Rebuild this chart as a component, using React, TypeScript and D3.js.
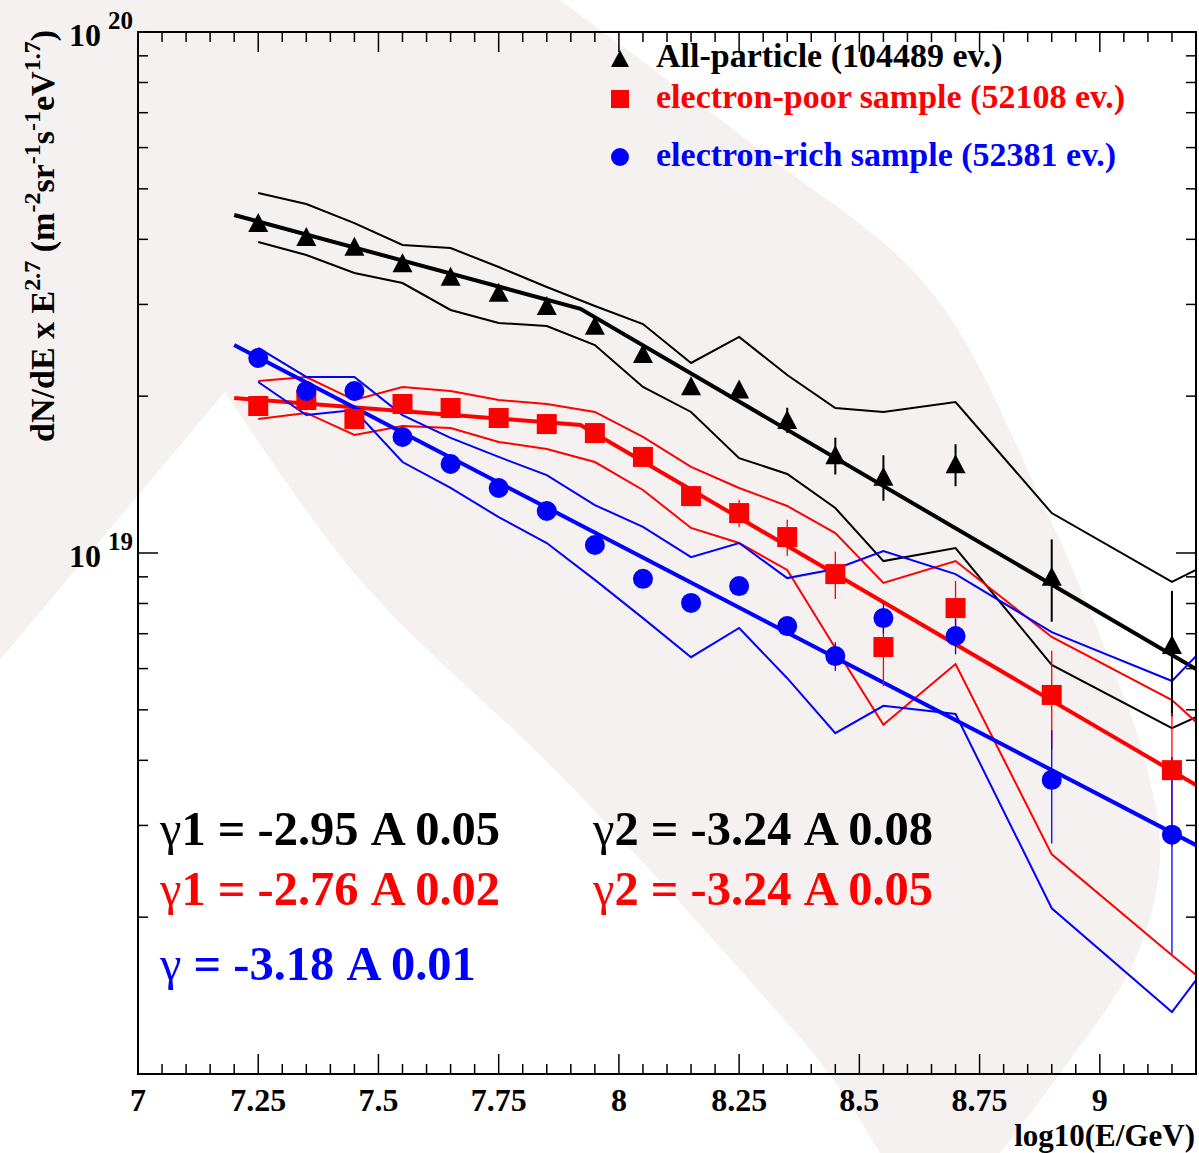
import React from 'react';
import * as d3 from 'd3';

// Energy bins, log10(E/GeV)
const energyBins = [7.25, 7.35, 7.45, 7.55, 7.65, 7.75, 7.85, 7.95, 8.05, 8.15, 8.25, 8.35, 8.45, 8.55, 8.7, 8.9, 9.15];
// Band polylines carry one extra vertex at the frame edge
const bandX = [7.25, 7.35, 7.45, 7.55, 7.65, 7.75, 7.85, 7.95, 8.05, 8.15, 8.25, 8.35, 8.45, 8.55, 8.7, 8.9, 9.15, 9.2];

// dN/dE x E^2.7 in units of 1e19 m^-2 sr^-1 s^-1 eV^1.7
const allParticle = [4.30, 4.04, 3.87, 3.60, 3.39, 3.16, 2.98, 2.73, 2.41, 2.09, 2.06, 1.80, 1.54, 1.40, 1.48, 0.90, 0.666];
const allParticleErr = [0.03, 0.03, 0.03, 0.03, 0.03, 0.03, 0.03, 0.03, 0.04, 0.05, 0.06, 0.10, 0.125, 0.14, 0.137, 0.162, 0.18];
const electronPoor = [1.915, 1.966, 1.808, 1.932, 1.898, 1.816, 1.768, 1.699, 1.529, 1.286, 1.193, 1.073, 0.911, 0.660, 0.784, 0.534, 0.383];
const electronPoorErr = [0.02, 0.02, 0.02, 0.02, 0.02, 0.02, 0.02, 0.02, 0.03, 0.04, 0.073, 0.085, 0.095, 0.105, 0.10, 0.115, 0.11];
const electronRich = [2.368, 2.046, 2.046, 1.670, 1.482, 1.333, 1.204, 1.036, 0.892, 0.802, 0.864, 0.724, 0.634, 0.750, 0.693, 0.367, 0.288];
const electronRichErr = [0.02, 0.02, 0.02, 0.02, 0.02, 0.02, 0.02, 0.02, 0.02, 0.02, 0.025, 0.03, 0.04, 0.05, 0.054, 0.09, 0.118];

// Systematic bands (upper / lower)
const allParticleUpper = [4.909, 4.677, 4.298, 3.901, 3.849, 3.539, 3.240, 2.979, 2.751, 2.316, 2.598, 2.196, 1.898, 1.865, 1.949, 1.193, 0.880, 0.928];
const allParticleLower = [3.953, 3.733, 3.446, 3.297, 2.927, 2.763, 2.727, 2.507, 2.083, 1.865, 1.521, 1.418, 1.220, 0.965, 1.022, 0.610, 0.461, 0.484];
const electronPoorUpper = [2.138, 2.177, 1.966, 2.083, 2.046, 1.966, 1.932, 1.865, 1.670, 1.463, 1.333, 1.231, 1.092, 0.876, 0.965, 0.690, 0.522, 0.474];
const electronPoorLower = [1.808, 1.857, 1.685, 1.753, 1.738, 1.634, 1.584, 1.495, 1.321, 1.117, 1.045, 0.928, 0.657, 0.468, 0.612, 0.264, 0.169, 0.155];
const electronRichUpper = [2.475, 2.177, 2.177, 1.840, 1.663, 1.529, 1.411, 1.236, 1.122, 0.982, 1.045, 0.895, 0.932, 1.009, 0.911, 0.705, 0.568, 0.634];
const electronRichLower = [2.129, 1.840, 1.881, 1.495, 1.333, 1.172, 1.045, 0.888, 0.750, 0.631, 0.718, 0.575, 0.451, 0.509, 0.491, 0.208, 0.1315, 0.1515];

// Power-law fits (vertices of the broken lines)
const allParticleFitX = [7.2, 7.92, 9.2];
const allParticleFit = [4.455, 2.943, 0.599];
const electronPoorFitX = [7.2, 7.92, 9.2];
const electronPoorFit = [1.984, 1.761, 0.3586];
const electronRichFitX = [7.2, 9.2];
const electronRichFit = [2.507, 0.275];

// Axis ticks
const xMajorTicks = [7, 7.25, 7.5, 7.75, 8, 8.25, 8.5, 8.75, 9];
const xTickLabels = ['7', '7.25', '7.5', '7.75', '8', '8.25', '8.5', '8.75', '9'];
const yDecades = [1, 10];
const yDecadeExponents = ['19', '20'];

const legendLabels = ['All-particle (104489 ev.)', 'electron-poor sample (52108 ev.)', 'electron-rich sample (52381 ev.)'];
const fitLabels = [
  { sym: 'γ1', text: ' = -2.95 A 0.05', color: '#000000', col: 0, row: 0 },
  { sym: 'γ2', text: ' = -3.24 A 0.08', color: '#000000', col: 1, row: 0 },
  { sym: 'γ1', text: ' = -2.76 A 0.02', color: '#ff0000', col: 0, row: 1 },
  { sym: 'γ2', text: ' = -3.24 A 0.05', color: '#ff0000', col: 1, row: 1 },
  { sym: 'γ', text: ' = -3.18 A 0.01', color: '#0000ff', col: 0, row: 2 },
];

const BLACK = '#000000';
const RED = '#ff0000';
const BLUE = '#0000ff';
const FONT = '"Liberation Serif", "Times New Roman", serif';

const W = 1199;
const H = 1153;
const L = 138, R = 1196, T = 32, B = 1074;

function Marker({ kind, cx, cy, color, s = 10 }) {
  if (kind === 'tri') {
    return <path d={`M${cx},${cy - s}L${cx + s},${cy + s * 0.9}L${cx - s},${cy + s * 0.9}Z`} fill={color} />;
  }
  if (kind === 'sq') {
    return <rect x={cx - s} y={cy - s} width={2 * s} height={2 * s} fill={color} />;
  }
  return <circle cx={cx} cy={cy} r={s} fill={color} />;
}

export default function App() {
  const x = d3.scaleLinear().domain([7, 9.2]).range([L, R]);
  const y = d3.scaleLog().domain([0.1, 10]).range([B, T]);

  const line = d3.line<[number, number]>().x((d) => x(d[0])).y((d) => y(d[1]));
  const pts = (xs: number[], ys: number[]) => xs.map((v, i) => [v, ys[i]] as [number, number]);

  const xMinor = d3.range(7, 9.2001, 0.05).map((v) => +v.toFixed(2));
  const yMinor = y.ticks();

  // Background watermark band
  const bgCurve = d3.line().curve(d3.curveCatmullRom.alpha(0.5));
  const outerEdge = bgCurve([[560, 0], [760, 150], [930, 290], [1046, 510], [1106, 651], [1145, 760], [1160, 860], [1135, 960], [1070, 1060], [1000, 1153]]);
  const innerEdge = bgCurve([[880, 1153], [830, 1075], [758, 990], [565, 780], [360, 580], [225, 392]]);
  const bandPath = `M0,0${outerEdge!.replace(/^M/, 'L')}${innerEdge!.replace(/^M/, 'L')}L0,660Z`;

  const series = [
    { vals: allParticle, err: allParticleErr, up: allParticleUpper, lo: allParticleLower, fx: allParticleFitX, fy: allParticleFit, color: BLACK, kind: 'tri', ew: 2 },
    { vals: electronPoor, err: electronPoorErr, up: electronPoorUpper, lo: electronPoorLower, fx: electronPoorFitX, fy: electronPoorFit, color: RED, kind: 'sq', ew: 1.3 },
    { vals: electronRich, err: electronRichErr, up: electronRichUpper, lo: electronRichLower, fx: electronRichFitX, fy: electronRichFit, color: BLUE, kind: 'circ', ew: 1.3 },
  ];

  return (
    <svg width={W} height={H} style={{ position: 'absolute', left: 0, top: 0 }} fontFamily={FONT}>
      <defs>
        <clipPath id="frame">
          <rect x={L} y={T} width={R - L} height={B - T} />
        </clipPath>
      </defs>
      <rect width={W} height={H} fill="#ffffff" />
      <path d={bandPath} fill="#f5f1f1" />

      {/* bands and fits */}
      <g clipPath="url(#frame)" fill="none">
        {series.map((s, i) => (
          <g key={i} stroke={s.color}>
            <path d={line(pts(bandX, s.up))!} strokeWidth={2} />
            <path d={line(pts(bandX, s.lo))!} strokeWidth={2} />
            <path d={line(pts(s.fx, s.fy))!} strokeWidth={4} />
          </g>
        ))}
      </g>

      {/* error bars and points */}
      <g clipPath="url(#frame)">
        {series.map((s, i) => (
          <g key={i}>
            {s.vals.map((v, j) => (
              <line key={j} x1={x(energyBins[j])} x2={x(energyBins[j])} y1={y(v + s.err[j])} y2={y(v - s.err[j])} stroke={s.color} strokeWidth={s.ew} />
            ))}
          </g>
        ))}
        {series.map((s, i) => (
          <g key={i}>
            {s.vals.map((v, j) => (
              <Marker key={j} kind={s.kind} cx={x(energyBins[j])} cy={y(v)} color={s.color} />
            ))}
          </g>
        ))}
      </g>

      {/* frame and ticks */}
      <rect x={L} y={T} width={R - L} height={B - T} fill="none" stroke={BLACK} strokeWidth={2} />
      <g stroke={BLACK} strokeWidth={1.5}>
        {xMinor.map((v) => {
          const len = xMajorTicks.includes(v) ? 20 : 10;
          return (
            <g key={v}>
              <line x1={x(v)} x2={x(v)} y1={B} y2={B - len} />
              <line x1={x(v)} x2={x(v)} y1={T} y2={T + len} />
            </g>
          );
        })}
        {yMinor.map((v, i) => {
          const len = yDecades.includes(v) ? 20 : 10;
          return (
            <g key={i}>
              <line x1={L} x2={L + len} y1={y(v)} y2={y(v)} />
              <line x1={R} x2={R - len} y1={y(v)} y2={y(v)} />
            </g>
          );
        })}
      </g>

      {/* tick labels */}
      <g fontSize={32} fontWeight="bold" textAnchor="middle" fill={BLACK}>
        {xMajorTicks.map((v, i) => (
          <text key={v} x={x(v)} y={1111}>{xTickLabels[i]}</text>
        ))}
      </g>
      <g fontWeight="bold" fill={BLACK}>
        {yDecades.map((v, i) => (
          <g key={v}>
            <text x={101} y={y(v) + 14} fontSize={32} textAnchor="end">10</text>
            <text x={108} y={y(v) - 3} fontSize={25}>{yDecadeExponents[i]}</text>
          </g>
        ))}
      </g>

      {/* axis titles */}
      <text x={1195} y={1146} fontSize={31} fontWeight="bold" textAnchor="end">log10(E/GeV)</text>
      <text transform="translate(54,30) rotate(-90)" fontSize={34} fontWeight="bold" textAnchor="end">
        <tspan>dN/dE x E</tspan>
        <tspan dy={-14} fontSize={24}>2.7</tspan>
        <tspan dy={14}> (m</tspan>
        <tspan dy={-14} fontSize={24}>-2</tspan>
        <tspan dy={14}>sr</tspan>
        <tspan dy={-14} fontSize={24}>-1</tspan>
        <tspan dy={14}>s</tspan>
        <tspan dy={-14} fontSize={24}>-1</tspan>
        <tspan dy={14}>eV</tspan>
        <tspan dy={-14} fontSize={24}>1.7</tspan>
        <tspan dy={14}>)</tspan>
      </text>

      {/* legend */}
      {series.map((s, i) => {
        const cy = [59, 99, 157][i];
        const by = [67, 108, 166][i];
        return (
          <g key={i}>
            <Marker kind={s.kind} cx={620} cy={cy} color={s.color} s={9} />
            <text x={656} y={by} fontSize={34} fontWeight="bold" fill={s.color}>{legendLabels[i]}</text>
          </g>
        );
      })}

      {/* fitted spectral indices */}
      {fitLabels.map((f, i) => (
        <text key={i} x={[160, 593][f.col]} y={[845, 905, 980][f.row]} fontSize={48.5} fontWeight="bold" fill={f.color}>
          <tspan fontWeight="normal">{f.sym.slice(0, 1)}</tspan>
          <tspan>{f.sym.slice(1)}{f.text}</tspan>
        </text>
      ))}
    </svg>
  );
}
